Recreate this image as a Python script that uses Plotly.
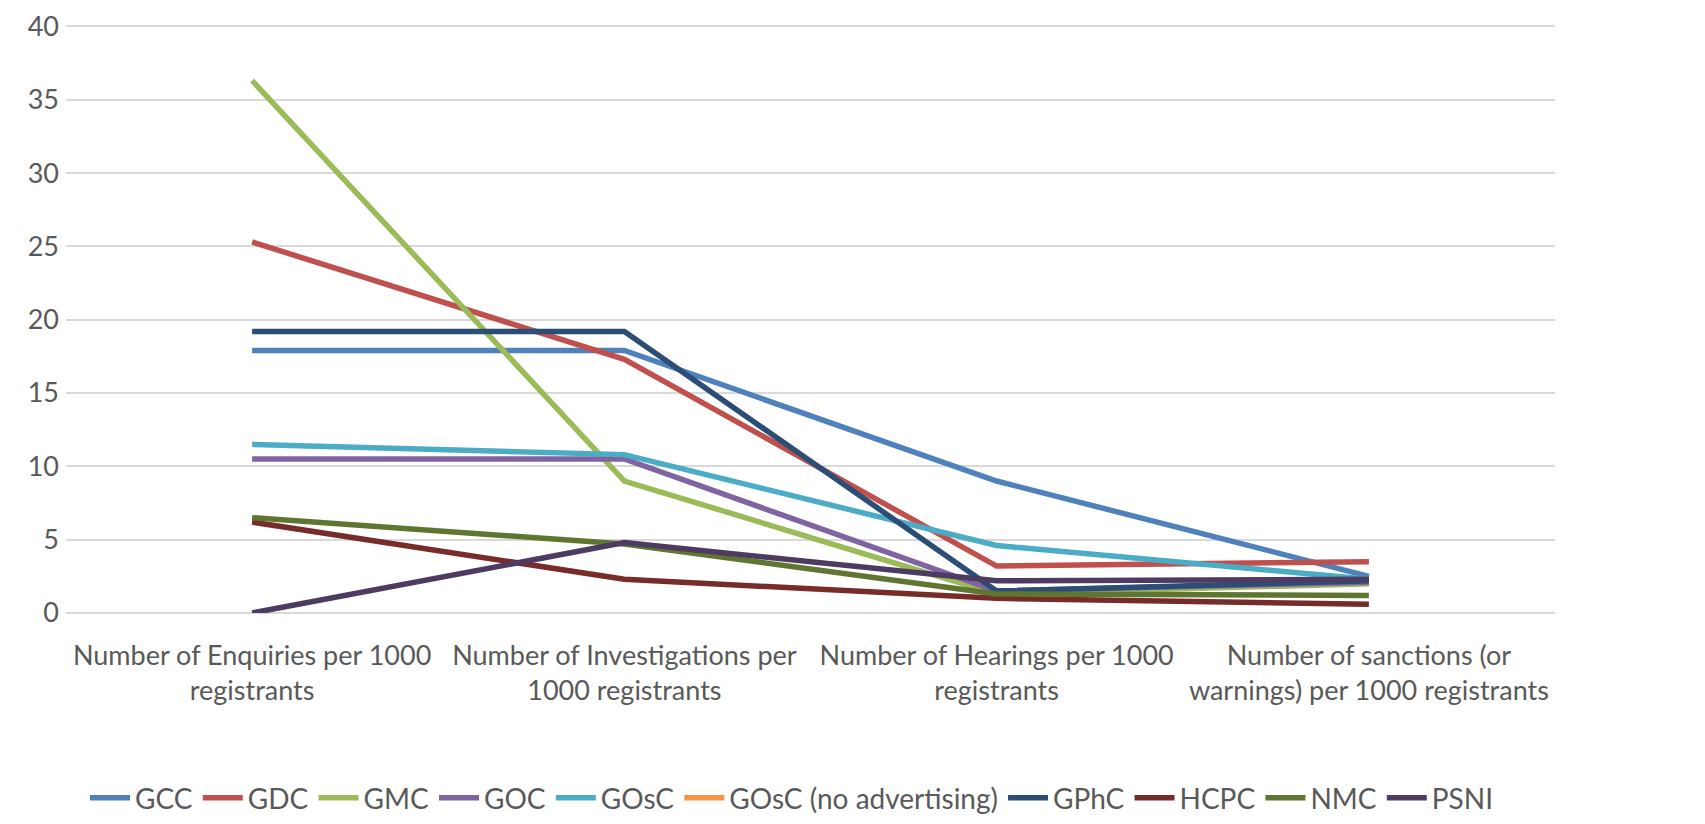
import plotly.graph_objects as go

categories = [
    "Number of Enquiries per 1000<br>registrants",
    "Number of Investigations per<br>1000 registrants",
    "Number of Hearings per 1000<br>registrants",
    "Number of sanctions (or<br>warnings) per 1000 registrants",
]

series_names = ["GCC", "GDC", "GMC", "GOC", "GOsC", "GOsC (no advertising)",
                "GPhC", "HCPC", "NMC", "PSNI"]

gcc = [17.9, 17.9, 9.0, 2.5]
gdc = [25.3, 17.3, 3.2, 3.5]
gmc = [36.3, 9.0, 1.3, 2.0]
goc = [10.5, 10.5, 1.5, 2.1]
gosc = [11.5, 10.8, 4.6, 2.3]
gosc_noadv = [None, None, None, None]
gphc = [19.2, 19.2, 1.5, 2.2]
hcpc = [6.2, 2.3, 1.0, 0.6]
nmc = [6.5, 4.7, 1.3, 1.2]
psni = [0.0, 4.8, 2.2, 2.3]

values = [gcc, gdc, gmc, goc, gosc, gosc_noadv, gphc, hcpc, nmc, psni]
colors = ["#4F81BD", "#C0504D", "#9BBB59", "#8064A2", "#4BACC6", "#F79646",
          "#2C4D75", "#772C2A", "#5F7530", "#4D3B62"]

fig = go.Figure()
for name, vals, col in zip(series_names, values, colors):
    fig.add_trace(go.Scatter(
        x=categories, y=vals, name=name, mode="lines",
        line=dict(color=col, width=5.5),
    ))

# the page body has an 8px margin, so the figure is drawn 8px smaller
W, H = 1697, 816
font_family = "Lato, Open Sans, sans-serif"
fig.update_layout(
    width=W, height=H,
    margin=dict(l=58, r=150, t=13.6, b=211, autoexpand=False),
    plot_bgcolor="white", paper_bgcolor="white",
    font=dict(family=font_family, size=27, color="#595959"),
    showlegend=True,
    legend=dict(orientation="h", x=(792 - 8) / W, xref="container", xanchor="center",
                y=1 - 790 / H, yref="container", yanchor="middle",
                font=dict(size=28, color="#595959"), itemwidth=40,
                tracegroupgap=0),
    xaxis=dict(type="category", range=[-0.5, 3.5], showgrid=False,
               showline=False, zeroline=False, ticks="", automargin=False,
               ticklabelstandoff=24,
               tickfont=dict(size=27, color="#595959")),
    yaxis=dict(range=[0, 40.3], tickvals=[0, 5, 10, 15, 20, 25, 30, 35, 40],
               showgrid=True, gridcolor="#D9D9D9",
               gridwidth=1.5, zeroline=True, zerolinecolor="#D9D9D9",
               zerolinewidth=1.5, showline=False, ticks="", automargin=False,
               ticklabelstandoff=6, ticklabeloverflow="allow",
               tickfont=dict(size=27, color="#595959")),
)

fig.write_html("out.html")
